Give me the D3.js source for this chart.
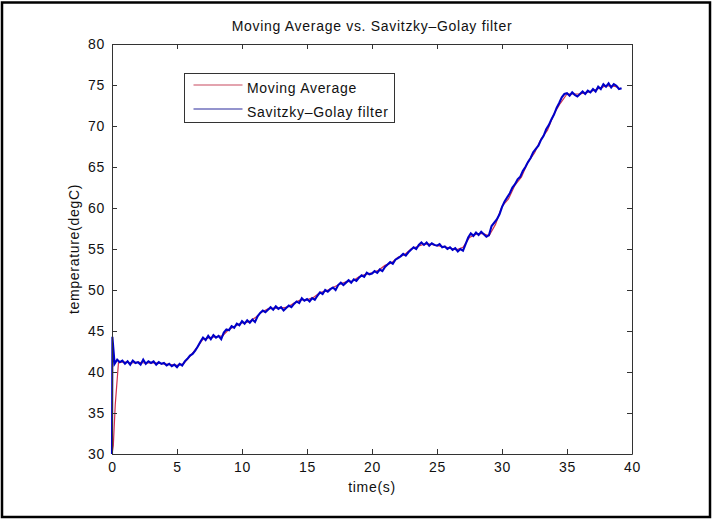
<!DOCTYPE html>
<html>
<head>
<meta charset="utf-8">
<script src="https://cdn.jsdelivr.net/npm/d3@7"></script>
<style>
  html, body { margin: 0; padding: 0; background: #fff; }
  svg { display: block; }
  text { font-family: "Liberation Sans", Arial, Helvetica, sans-serif; font-size: 14px; fill: #111; letter-spacing: 0.7px; }
</style>
</head>
<body>
<svg id="chart" width="713" height="520"></svg>
<script>
// ---- data -------------------------------------------------------------
const chartTitle = "Moving Average vs. Savitzky\u2013Golay filter";
const xLabel = "time(s)";
const yLabel = "temperature(degC)";
const seriesNames = ["Moving Average", "Savitzky\u2013Golay filter"];
const xTicks = [0, 5, 10, 15, 20, 25, 30, 35, 40];
const yTicks = [30, 35, 40, 45, 50, 55, 60, 65, 70, 75, 80];
const xDomain = [0, 40];
const yDomain = [30, 80];

// start-up transient (time in s, temperature in degC)
const sgLeadTime = [0, 0.03];
const sgLeadTemp = [30, 44.3];
const maLeadTime = [0, 0.1, 0.25];
const maLeadTemp = [30, 31, 36];

// Savitzky-Golay output, sampled every 0.2 s from t = 0.2 s
const sgStart = 0.2, sgStep = 0.2;
const sgTemp = [
  41.0, 41.5, 41.2, 41.4,
  41.0, 41.3, 40.9, 41.4, 41.1,
  41.2, 40.9, 41.5, 41.0, 41.3,
  41.1, 41.3, 40.9, 41.2, 41.0,
  41.1, 40.8, 41.0, 40.7, 40.9,
  40.6, 41.0, 40.8, 41.3, 41.6,
  42.0, 42.2, 42.6, 43.1, 43.7,
  44.2, 43.9, 44.4, 44.0, 44.5,
  44.2, 44.4, 44.0, 44.8, 45.2,
  45.1, 45.6, 45.4, 45.9, 45.7,
  46.2, 45.9, 46.3, 46.0, 46.4,
  46.1, 46.8, 47.2, 47.5, 47.3,
  47.6, 47.9, 47.6, 48.0, 47.7,
  47.9, 47.5, 47.8, 48.1, 47.9,
  48.3, 48.6, 48.4, 49.0, 48.7,
  48.9, 48.6, 49.0, 48.8, 49.3,
  49.7, 49.5, 50.0, 49.8, 50.1,
  50.3, 50.0, 50.6, 50.9, 50.6,
  50.9, 51.2, 50.9, 51.3, 51.1,
  51.5, 51.8, 51.6, 52.1, 51.9,
  52.0, 52.3, 52.1, 52.5, 52.3,
  52.8, 53.1, 53.4, 53.2, 53.7,
  53.9, 54.1, 54.4, 54.2, 54.6,
  54.9, 55.2, 55.0, 55.5, 55.8,
  55.5, 55.8, 55.4, 55.7, 55.5,
  55.4, 55.6, 55.2, 55.3, 55.0,
  55.2, 54.9, 55.1, 54.7, 55.0,
  54.8, 55.6, 56.4, 56.9, 56.6,
  57.0, 56.7, 57.1, 56.8, 56.5,
  56.7, 57.8, 58.2, 58.6, 59.2,
  60.1, 60.8, 61.3, 61.8, 62.5,
  62.9, 63.5, 63.8, 64.5, 65.0,
  65.6, 66.1, 66.8, 67.2, 67.6,
  68.3, 68.8, 69.6, 70.1, 70.8,
  71.4, 72.2, 72.8, 73.5, 73.9,
  74.0, 73.7, 74.1, 73.8, 73.6,
  73.9, 74.2, 73.9, 74.3, 74.1,
  74.5, 74.2, 74.8, 74.5, 75.1,
  74.8, 75.2, 74.7, 75.1, 74.9,
  74.5, 74.6
];

// moving-average output, sampled every 0.5 s from t = 0.5 s
const maStart = 0.5, maStep = 0.5;
const maTemp = [
  41.2,
  41.2, 41.1, 41.2, 41.1, 41.1, 41.1, 41.0, 40.9, 40.8, 41.0,
  41.9, 42.9, 44.0, 44.2, 44.3, 44.4, 45.2, 45.6, 46.0, 46.1,
  46.6, 47.3, 47.7, 47.8, 47.8, 47.9, 48.4, 48.8, 48.8, 49.1,
  49.7, 49.9, 50.3, 50.7, 51.0, 51.1, 51.6, 51.9, 52.1, 52.4,
  53.0, 53.3, 54.0, 54.3, 55.0, 55.3, 55.6, 55.6, 55.4, 55.3,
  55.1, 54.9, 55.2, 56.4, 56.8, 56.9, 56.6, 58.0, 60.2, 61.1,
  62.8, 63.8, 65.6, 66.7, 68.4, 69.5, 71.5, 72.8, 73.9, 73.9,
  73.9, 74.1, 74.3, 74.6, 74.9, 74.9, 74.7
];

const colors = ["#d0304c", "#0000c8"];
const legendColors = ["#c8485e", "#2a2a9c"];

// ---- assemble sample points -------------------------------------------
const sgPoints = sgLeadTime.map((t, i) => [t, sgLeadTemp[i]])
  .concat(sgTemp.map((v, i) => [sgStart + i * sgStep, v]));
const maPoints = maLeadTime.map((t, i) => [t, maLeadTemp[i]])
  .concat(maTemp.map((v, i) => [maStart + i * maStep, v]));

// ---- layout -----------------------------------------------------------
const svg = d3.select("#chart");
const plot = { left: 112, right: 632, top: 44, bottom: 454 };

const x = d3.scaleLinear().domain(xDomain).range([plot.left, plot.right]);
const y = d3.scaleLinear().domain(yDomain).range([plot.bottom, plot.top]);

// figure frame
svg.append("rect")
  .attr("x", 2).attr("y", 2.5).attr("width", 708).attr("height", 514.5)
  .attr("fill", "#fff").attr("stroke", "#000").attr("stroke-width", 2.5);

// ---- data lines (drawn under the axes box) ------------------------------
const line = d3.line().x(d => x(d[0])).y(d => y(d[1]));
const gData = svg.append("g");
gData.append("path").datum(maPoints)
  .attr("d", line).attr("fill", "none")
  .attr("stroke", colors[0]).attr("stroke-width", 1.2);
gData.append("path").datum(sgPoints)
  .attr("d", line).attr("fill", "none")
  .attr("stroke", colors[1]).attr("stroke-width", 2.1)
  .attr("stroke-linejoin", "miter");

// ---- axes (ticks point inward on all four sides) -----------------------
function styleAxis(g) {
  g.selectAll(".domain").attr("stroke", "#333").attr("stroke-width", 1);
  g.selectAll(".tick line").attr("stroke", "#333").attr("stroke-width", 1);
  g.selectAll("text").attr("font-size", null).attr("font-family", null).attr("fill", "#111");
}
svg.append("g").attr("transform", `translate(0,${plot.bottom})`)
  .call(d3.axisBottom(x).tickValues(xTicks).tickSizeInner(-5).tickSizeOuter(0).tickPadding(8))
  .call(styleAxis);
svg.append("g").attr("transform", `translate(0,${plot.top})`)
  .call(d3.axisTop(x).tickValues(xTicks).tickSizeInner(-5).tickSizeOuter(0).tickFormat(""))
  .call(styleAxis);
svg.append("g").attr("transform", `translate(${plot.left},0)`)
  .call(d3.axisLeft(y).tickValues(yTicks).tickSizeInner(-5).tickSizeOuter(0).tickPadding(7))
  .call(styleAxis);
svg.append("g").attr("transform", `translate(${plot.right},0)`)
  .call(d3.axisRight(y).tickValues(yTicks).tickSizeInner(-5).tickSizeOuter(0).tickFormat(""))
  .call(styleAxis);

// ---- titles -----------------------------------------------------------
svg.append("text").attr("x", (plot.left + plot.right) / 2).attr("y", 31)
  .attr("text-anchor", "middle").text(chartTitle);
svg.append("text").attr("x", (plot.left + plot.right) / 2).attr("y", 492)
  .attr("text-anchor", "middle").text(xLabel);
svg.append("text")
  .attr("transform", `translate(79,${(plot.top + plot.bottom) / 2}) rotate(-90)`)
  .attr("text-anchor", "middle").text(yLabel);

// ---- legend -----------------------------------------------------------
const legend = svg.append("g").attr("transform", "translate(184.5,73.5)");
legend.append("rect").attr("width", 210).attr("height", 49)
  .attr("fill", "#fff").attr("stroke", "#333").attr("stroke-width", 1);
seriesNames.forEach((name, i) => {
  const rowY = 11.5 + i * 24;
  legend.append("line")
    .attr("x1", 9).attr("x2", 58).attr("y1", rowY).attr("y2", rowY)
    .attr("stroke", legendColors[i]).attr("stroke-width", 1.2);
  legend.append("text").attr("x", 62.5).attr("y", rowY + 7.5).text(name);
});
</script>
</body>
</html>
